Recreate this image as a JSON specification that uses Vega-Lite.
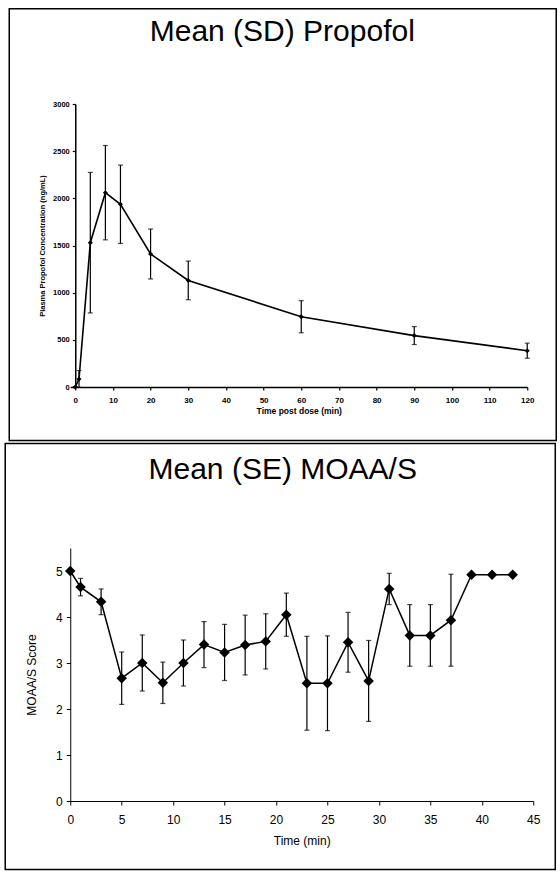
{
  "$schema": "https://vega.github.io/schema/vega-lite/v6.json",
  "background": "white",
  "padding": {"left": 4.25, "top": 8, "right": 0, "bottom": 0},
  "columns": 1,
  "spacing": 0,
  "concat": [
    {
      "width": 457,
      "height": 283,
      "data": {
        "values": [
          {"t": 0, "mean": 0, "sd": 0},
          {"t": 1, "mean": 85, "sd": 90},
          {"t": 4, "mean": 1530, "sd": 745},
          {"t": 8, "mean": 2060, "sd": 500},
          {"t": 12, "mean": 1937, "sd": 415},
          {"t": 20, "mean": 1410, "sd": 265},
          {"t": 30, "mean": 1130, "sd": 205},
          {"t": 60, "mean": 745, "sd": 170},
          {"t": 90, "mean": 545, "sd": 95},
          {"t": 120, "mean": 385, "sd": 80}
        ]
      },
      "layer": [
        {
          "data": {"values": [{}]},
          "mark": {"type": "rect", "filled": false, "color": "black", "strokeWidth": 1.5},
          "encoding": {
            "x": {"datum": -17.52, "type": "quantitative", "scale": {"domain": [-1.327, 120], "nice": false}},
            "x2": {"datum": 127.7},
            "y": {"datum": 4009.7, "type": "quantitative", "scale": {"domain": [0, 3000], "nice": false}},
            "y2": {"datum": -567.1}
          }
        },
        {
          "data": {"values": [{}]},
          "mark": {
            "type": "text",
            "text": "Mean (SD) Propofol",
            "font": "Liberation Sans",
            "fontSize": 30,
            "color": "black",
            "align": "center",
            "baseline": "alphabetic"
          },
          "encoding": {
            "x": {"datum": 54.96, "type": "quantitative", "scale": {"domain": [-1.327, 120], "nice": false}},
            "y": {"datum": 3668, "type": "quantitative", "scale": {"domain": [0, 3000], "nice": false}}
          }
        },
        {
          "mark": {"type": "errorbar", "color": "black", "thickness": 1.2, "ticks": {"size": 5}},
          "encoding": {
            "x": {
              "field": "t",
              "type": "quantitative",
              "scale": {"domain": [-1.327, 120], "nice": false},
              "title": "Time post dose (min)",
              "axis": {"values": [0, 10, 20, 30, 40, 50, 60, 70, 80, 90, 100, 110, 120], "labelOverlap": false, "labelFlush": false}
            },
            "y": {
              "field": "mean",
              "type": "quantitative",
              "scale": {"domain": [0, 3000], "nice": false},
              "title": "Plasma Propofol Concentration (ng/mL)",
              "axis": {"values": [0, 500, 1000, 1500, 2000, 2500, 3000], "labelOverlap": false}
            },
            "yError": {"field": "sd"}
          }
        },
        {
          "mark": {
            "type": "line",
            "color": "black",
            "strokeWidth": 1.6,
            "point": {"shape": "diamond", "size": 25, "filled": true, "color": "black"}
          },
          "encoding": {
            "x": {
              "field": "t",
              "type": "quantitative",
              "scale": {"domain": [-1.327, 120], "nice": false},
              "title": "Time post dose (min)",
              "axis": {
                "values": [0, 10, 20, 30, 40, 50, 60, 70, 80, 90, 100, 110, 120],
                "tickCount": 13,
                "grid": false,
                "domainColor": "black",
                "domainWidth": 1.5,
                "tickColor": "black",
                "tickSize": 3,
                "tickWidth": 1.2,
                "labelFont": "Liberation Sans",
                "labelFontSize": 8,
                "labelFontWeight": "bold",
                "labelColor": "black",
                "labelPadding": 6,
                "labelFlush": false,
                "labelOverlap": false,
                "titleFont": "Liberation Sans",
                "titleFontSize": 8.5,
                "titleFontWeight": "bold",
                "titleColor": "black",
                "titlePadding": 2
              }
            },
            "y": {
              "field": "mean",
              "type": "quantitative",
              "scale": {"domain": [0, 3000], "nice": false},
              "title": "Plasma Propofol Concentration (ng/mL)",
              "axis": {
                "values": [0, 500, 1000, 1500, 2000, 2500, 3000],
                "format": "d",
                "offset": -5,
                "grid": false,
                "domainColor": "black",
                "domainWidth": 1.5,
                "tickColor": "black",
                "tickSize": 3,
                "tickWidth": 1.2,
                "labelFont": "Liberation Sans",
                "labelFontSize": 7.5,
                "labelFontWeight": "bold",
                "labelColor": "black",
                "labelPadding": 3,
                "labelOverlap": false,
                "titleFont": "Liberation Sans",
                "titleFontSize": 7.5,
                "titleFontWeight": "bold",
                "titleColor": "black",
                "titlePadding": 6
              }
            }
          }
        }
      ]
    },
    {
      "width": 463,
      "height": 253,
      "data": {
        "values": [
          {"t": 0, "mean": 5.0, "se": 0},
          {"t": 1, "mean": 4.65, "se": 0.19},
          {"t": 3, "mean": 4.33, "se": 0.28},
          {"t": 5, "mean": 2.67, "se": 0.57},
          {"t": 7, "mean": 3.0, "se": 0.61},
          {"t": 9, "mean": 2.57, "se": 0.45},
          {"t": 11, "mean": 3.0, "se": 0.5},
          {"t": 13, "mean": 3.4, "se": 0.5},
          {"t": 15, "mean": 3.23, "se": 0.61},
          {"t": 17, "mean": 3.39, "se": 0.65},
          {"t": 19, "mean": 3.47, "se": 0.6},
          {"t": 21, "mean": 4.05, "se": 0.47},
          {"t": 23, "mean": 2.56, "se": 1.02},
          {"t": 25, "mean": 2.56, "se": 1.03},
          {"t": 27, "mean": 3.45, "se": 0.65},
          {"t": 29, "mean": 2.61, "se": 0.88},
          {"t": 31, "mean": 4.61, "se": 0.34},
          {"t": 33, "mean": 3.6, "se": 0.67},
          {"t": 35, "mean": 3.6, "se": 0.67},
          {"t": 37, "mean": 3.93, "se": 1.0},
          {"t": 39, "mean": 4.92, "se": 0},
          {"t": 41, "mean": 4.92, "se": 0},
          {"t": 43, "mean": 4.92, "se": 0}
        ]
      },
      "layer": [
        {
          "data": {"values": [{}]},
          "mark": {"type": "rect", "filled": false, "color": "black", "strokeWidth": 1.5},
          "encoding": {
            "x": {"datum": -6.32, "type": "quantitative", "scale": {"domain": [0, 45], "nice": false}},
            "x2": {"datum": 47.14},
            "y": {"datum": 7.772, "type": "quantitative", "scale": {"domain": [0, 5.5], "nice": false}},
            "y2": {"datum": -1.489}
          }
        },
        {
          "data": {"values": [{}]},
          "mark": {
            "type": "text",
            "text": "Mean (SE) MOAA/S",
            "font": "Liberation Sans",
            "fontSize": 30,
            "color": "black",
            "align": "center",
            "baseline": "alphabetic"
          },
          "encoding": {
            "x": {"datum": 20.65, "type": "quantitative", "scale": {"domain": [0, 45], "nice": false}},
            "y": {"datum": 6.99, "type": "quantitative", "scale": {"domain": [0, 5.5], "nice": false}}
          }
        },
        {
          "transform": [{"filter": "datum.se > 0"}],
          "mark": {"type": "errorbar", "color": "black", "thickness": 1.2, "ticks": {"size": 5}},
          "encoding": {
            "x": {"field": "t", "type": "quantitative", "scale": {"domain": [0, 45], "nice": false}, "title": "Time (min)"},
            "y": {"field": "mean", "type": "quantitative", "scale": {"domain": [0, 5.5], "nice": false}, "title": "MOAA/S Score"},
            "yError": {"field": "se"}
          }
        },
        {
          "mark": {
            "type": "line",
            "color": "black",
            "strokeWidth": 1.5,
            "point": {"shape": "diamond", "size": 110, "filled": true, "color": "black"}
          },
          "encoding": {
            "x": {
              "field": "t",
              "type": "quantitative",
              "scale": {"domain": [0, 45], "nice": false},
              "title": "Time (min)",
              "axis": {
                "values": [0, 5, 10, 15, 20, 25, 30, 35, 40, 45],
                "grid": false,
                "domainColor": "black",
                "domainWidth": 1,
                "tickColor": "black",
                "tickSize": 4,
                "tickWidth": 1,
                "labelFont": "Liberation Sans",
                "labelFontSize": 12,
                "labelFontWeight": "normal",
                "labelColor": "black",
                "labelPadding": 9,
                "labelFlush": false,
                "labelOverlap": false,
                "titleFont": "Liberation Sans",
                "titleFontSize": 12,
                "titleFontWeight": "normal",
                "titleColor": "black",
                "titlePadding": 10
              }
            },
            "y": {
              "field": "mean",
              "type": "quantitative",
              "scale": {"domain": [0, 5.5], "nice": false},
              "title": "MOAA/S Score",
              "axis": {
                "values": [0, 1, 2, 3, 4, 5],
                "grid": false,
                "domainColor": "black",
                "domainWidth": 1,
                "tickColor": "black",
                "tickSize": 4,
                "tickWidth": 1,
                "labelFont": "Liberation Sans",
                "labelFontSize": 12,
                "labelFontWeight": "normal",
                "labelColor": "black",
                "labelPadding": 4,
                "labelOverlap": false,
                "titleFont": "Liberation Sans",
                "titleFontSize": 12,
                "titleFontWeight": "normal",
                "titleColor": "black",
                "titlePadding": 17
              }
            }
          }
        }
      ]
    }
  ],
  "config": {
    "view": {"stroke": null},
    "font": "Liberation Sans"
  }
}
